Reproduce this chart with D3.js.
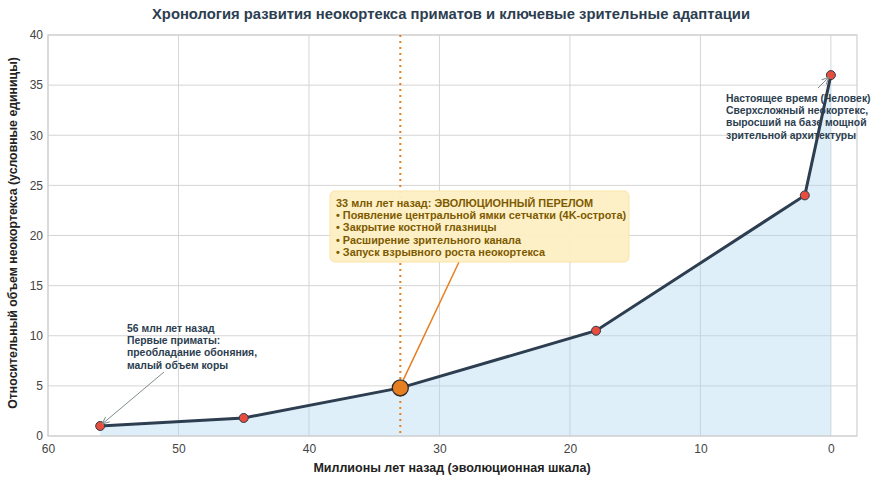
<!DOCTYPE html>
<html>
<head>
    <meta charset="utf-8">
    <script src="https://d3js.org/d3.v7.min.js"></script>
    <style>
        body { margin: 0; background: #fff; font-family: "Liberation Sans", Arial, sans-serif; }
        .tick text { font-size: 12px; fill: #444; }
    </style>
</head>
<body>
    <svg id="chart" width="877" height="483"></svg>

    <script>
        // data
        var years = [56, 45, 33, 18, 2, 0];
        var volume = [1.0, 1.8, 4.8, 10.5, 24, 36];
        var xTicks = [60, 50, 40, 30, 20, 10, 0];
        var yTicks = [0, 5, 10, 15, 20, 25, 30, 35, 40];
        var boxLines = ["33 млн лет назад: ЭВОЛЮЦИОННЫЙ ПЕРЕЛОМ",
            "• Появление центральной ямки сетчатки (4K-острота)",
            "• Закрытие костной глазницы",
            "• Расширение зрительного канала",
            "• Запуск взрывного роста неокортекса"];
        var startLines = ["56 млн лет назад", "Первые приматы:", "преобладание обоняния,", "малый объем коры"];
        var nowLines = ["Настоящее время (Человек)", "Сверхсложный неокортекс,", "выросший на базе мощной", "зрительной архитектуры"];

        var data = years.map((d, i) => ({ x: d, y: volume[i] }));

        var svg = d3.select("#chart");
        var xScale = d3.scaleLinear().domain([60, -2]).range([48, 857]);
        var yScale = d3.scaleLinear().domain([0, 40]).range([436, 35]);

        // grid
        svg.append("g").selectAll("line").data(xTicks).enter().append("line")
            .attr("x1", d => xScale(d)).attr("x2", d => xScale(d))
            .attr("y1", 35).attr("y2", 436)
            .attr("stroke", "#d5d5d5").attr("stroke-width", 1);
        svg.append("g").selectAll("line").data(yTicks).enter().append("line")
            .attr("x1", 48).attr("x2", 857)
            .attr("y1", d => yScale(d)).attr("y2", d => yScale(d))
            .attr("stroke", "#d5d5d5").attr("stroke-width", 1);

        // area + line
        svg.append("path").datum(data)
            .attr("d", d3.area().x(d => xScale(d.x)).y0(yScale(0)).y1(d => yScale(d.y)))
            .attr("fill", "#aed6f1").attr("opacity", 0.4);

        svg.append("rect").attr("x", 48).attr("y", 35).attr("width", 809).attr("height", 401)
            .attr("fill", "none").attr("stroke", "#cfcfcf").attr("stroke-width", 1.2);

        // highlight line
        svg.append("line")
            .attr("x1", xScale(33)).attr("x2", xScale(33)).attr("y1", 35).attr("y2", 436)
            .attr("stroke", "#e67e22").attr("stroke-width", 2).attr("stroke-dasharray", "2,4");

        svg.append("path").datum(data)
            .attr("d", d3.line().x(d => xScale(d.x)).y(d => yScale(d.y)))
            .attr("fill", "none").attr("stroke", "#2c3e50").attr("stroke-width", 3);

        svg.selectAll("circle.pt").data(data.filter(d => d.x !== 33)).enter().append("circle")
            .attr("class", "pt")
            .attr("cx", d => xScale(d.x)).attr("cy", d => yScale(d.y)).attr("r", 4.5)
            .attr("fill", "#e74c3c").attr("stroke", "#2c3e50").attr("stroke-width", 1);

        // axes
        svg.append("g").attr("transform", "translate(0,436)")
            .call(d3.axisBottom(xScale).tickValues(xTicks).tickSize(0).tickPadding(8))
            .call(g => g.select(".domain").remove());
        svg.append("g").attr("transform", "translate(48,0)")
            .call(d3.axisLeft(yScale).tickValues(yTicks).tickSize(0).tickPadding(5))
            .call(g => g.select(".domain").remove());

        svg.append("text").attr("x", 451).attr("y", 19).attr("text-anchor", "middle")
            .style("font-size", "14.8px").style("font-weight", "bold").style("fill", "#2c3e50")
            .text("Хронология развития неокортекса приматов и ключевые зрительные адаптации");
        svg.append("text").attr("x", 452).attr("y", 472).attr("text-anchor", "middle")
            .style("font-size", "12.5px").style("font-weight", "bold").style("fill", "#222")
            .text("Миллионы лет назад (эволюционная шкала)");
        svg.append("text").attr("transform", "translate(17,233)rotate(-90)").attr("text-anchor", "middle")
            .style("font-size", "12.3px").style("font-weight", "bold").style("fill", "#222")
            .text("Относительный объем неокортекса (условные единицы)");

        // arrows
        var p33 = data.find(d => d.x === 33);
        svg.append("line").attr("x1", 459).attr("y1", 262)
            .attr("x2", xScale(p33.x) + 3).attr("y2", yScale(p33.y) - 8)
            .attr("stroke", "#e67e22").attr("stroke-width", 1.5);

        svg.append("circle").attr("cx", xScale(p33.x)).attr("cy", yScale(p33.y)).attr("r", 8)
            .attr("fill", "#e67e22").attr("stroke", "#2c2c2c").attr("stroke-width", 1.3);

        svg.append("defs").append("marker").attr("id", "arr").attr("viewBox", "0 0 10 10")
            .attr("refX", 9).attr("refY", 5).attr("markerWidth", 8).attr("markerHeight", 8)
            .attr("orient", "auto-start-reverse")
            .append("path").attr("d", "M0,1 L9,5 L0,9").attr("fill", "none").attr("stroke", "#7f8c8d").attr("stroke-width", 1.2);

        var p56 = data[0], p0 = data[data.length - 1];
        svg.append("line").attr("x1", 164).attr("y1", 372)
            .attr("x2", xScale(p56.x) + 2).attr("y2", yScale(p56.y) - 2)
            .attr("stroke", "#7f8c8d").attr("stroke-width", 1).attr("marker-end", "url(#arr)");
        svg.append("line").attr("x1", 818).attr("y1", 88)
            .attr("x2", xScale(p0.x) - 2).attr("y2", yScale(p0.y) + 2)
            .attr("stroke", "#7f8c8d").attr("stroke-width", 1).attr("marker-end", "url(#arr)");

        // callout box
        svg.append("rect").attr("x", 330).attr("y", 191).attr("width", 299).attr("height", 71).attr("rx", 5)
            .attr("fill", "#fdf0c4").attr("stroke", "#f9e3a3").attr("stroke-width", 1).attr("opacity", 0.95);
        svg.append("text").selectAll("tspan").data(boxLines).enter().append("tspan")
            .attr("x", 336).attr("y", (d, i) => 207 + 12.2 * i)
            .style("font-size", "10.9px").style("font-weight", "bold").style("fill", "#7d5a00")
            .text(d => d);

        svg.append("text").selectAll("tspan").data(startLines).enter().append("tspan")
            .attr("x", 127).attr("y", (d, i) => 332 + 12.2 * i)
            .style("font-size", "10.4px").style("font-weight", "bold").style("fill", "#2c3e50")
            .text(d => d);

        svg.append("text").selectAll("tspan").data(nowLines).enter().append("tspan")
            .attr("x", 726).attr("y", (d, i) => 102 + 12.2 * i)
            .style("font-size", "10.4px").style("font-weight", "bold").style("fill", "#2c3e50")
            .text(d => d);
    </script>
</body>
</html>
